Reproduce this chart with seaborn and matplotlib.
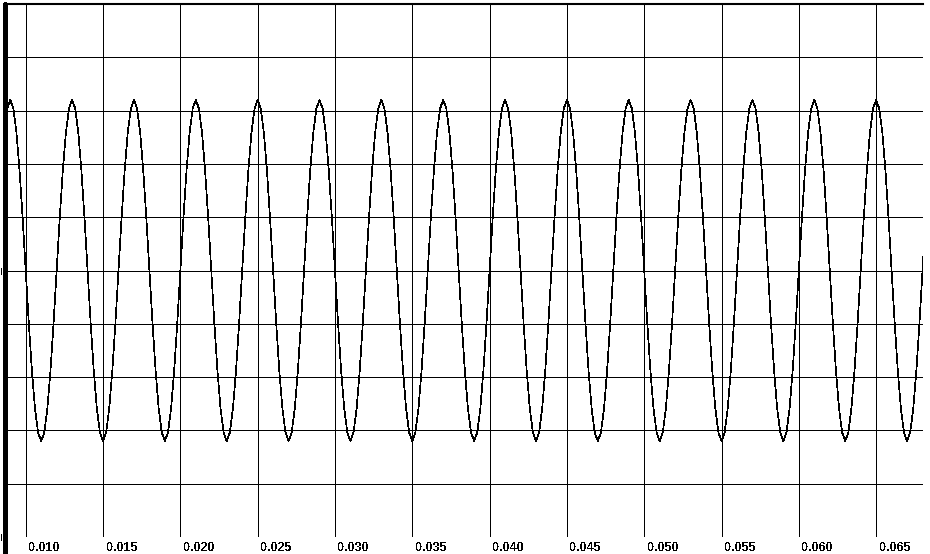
import numpy as np
import matplotlib
matplotlib.use('Agg')
import matplotlib.pyplot as plt
import matplotlib.transforms as mtransforms
from matplotlib.lines import Line2D
import seaborn as sns

# one cycle of the waveform (20 samples per cycle)
cycle_values = [0.0, 0.99, 1.88, 2.59, 3.04, 3.2, 3.04, 2.59, 1.88, 0.99,
                0.0, -0.99, -1.88, -2.59, -3.04, -3.2, -3.04, -2.59, -1.88, -0.99]
n_cycles = 16
t_start = 0.008      # s, start of the first cycle
t_step = 0.0002      # s, sample spacing

tick_pos = [0.010, 0.015, 0.020, 0.025, 0.030, 0.035, 0.040, 0.045, 0.050, 0.055, 0.060, 0.065]
tick_labels = ['0.010', '0.015', '0.020', '0.025', '0.030', '0.035',
               '0.040', '0.045', '0.050', '0.055', '0.060', '0.065']
grid_y = [-4, -3, -2, -1, 0, 1, 2, 3, 4]

signal = np.tile(cycle_values, n_cycles)
t = t_start + np.arange(len(signal)) * t_step

sns.set_style('white')
plt.rcParams['font.family'] = ['Liberation Sans', 'DejaVu Sans']
plt.rcParams['lines.antialiased'] = False
plt.rcParams['text.antialiased'] = False

W, H = 930, 554
fig = plt.figure(figsize=(W / 100, H / 100), dpi=100)
ax = fig.add_axes([5 / W, 17 / H, 918 / W, 533 / H])

sns.lineplot(x=t, y=signal, ax=ax, color='black', linewidth=0.5, antialiased=False)

ax.set_xlim(0.00866, 0.06803)
ax.set_ylim(-5, 5)
ax.set_xticks(tick_pos)
ax.set_xticks(np.arange(0.009, 0.0681, 0.001), minor=True)
ax.set_xticklabels([])
ax.set_yticks(grid_y)
ax.set_yticklabels([])
ax.grid(True, which='major', color='black', linewidth=0.7)
ax.tick_params(axis='x', which='major', direction='out', length=6.5, width=0.7, color='black')
ax.tick_params(axis='x', which='minor', direction='out', length=1.5, width=0.7, color='black')
ax.tick_params(axis='y', left=False, length=0)
ax.set_xlabel('')
ax.set_ylabel('')

for side in ['left', 'right', 'bottom']:
    ax.spines[side].set_visible(False)
ax.spines['top'].set_linewidth(1.5)
ax.spines['top'].set_color('black')

# thick left axis line running down to the bottom edge
fig.add_artist(Line2D([5 / W, 5 / W], [0, 1 - 3 / H], color='black', linewidth=2.2))
# small marks left of the axis line
for ym in [0, -5]:
    fig.add_artist(Line2D([0.5 / W, 0.5 / W],
                          [(17 + (ym + 5) * 53.3 - 3) / H, (17 + (ym + 5) * 53.3 + 3) / H],
                          color='black', linewidth=0.7))

trans = mtransforms.blended_transform_factory(ax.transData, ax.transAxes) + \
    mtransforms.ScaledTranslation(3 / 100, -5 / 100, fig.dpi_scale_trans)
for pos, lab in zip(tick_pos, tick_labels):
    ax.text(pos, 0, lab, transform=trans, ha='left', va='top', fontsize=9,
            fontweight='bold', color='black', clip_on=False)

fig.savefig('out.png', dpi=100, facecolor='white')
